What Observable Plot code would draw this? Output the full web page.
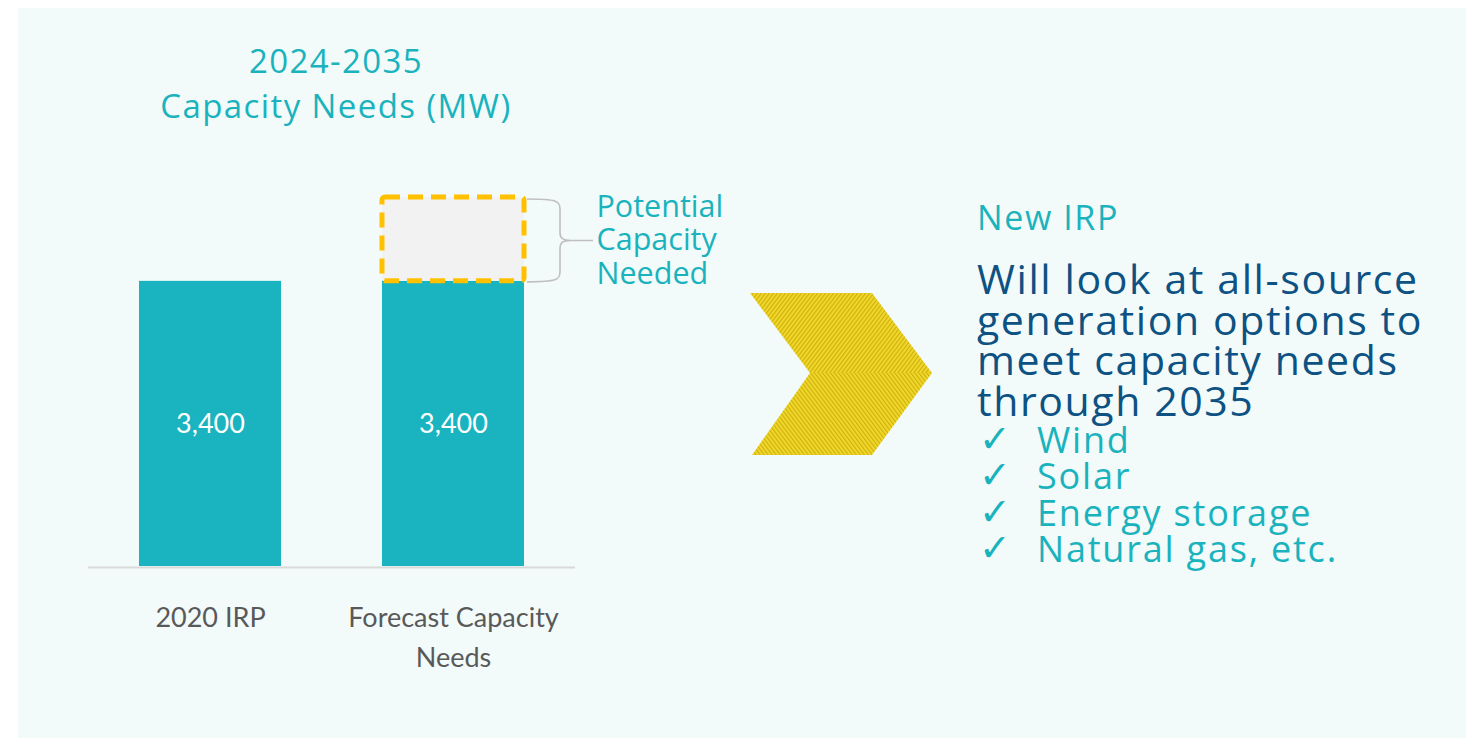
<!DOCTYPE html>
<html>
<head>
<meta charset="utf-8">
<script src="https://cdn.jsdelivr.net/npm/d3@7"></script>
<script src="https://cdn.jsdelivr.net/npm/@observablehq/plot@0.6"></script>
<style>
  html, body { margin: 0; padding: 0; background: #ffffff; }
  #stage { position: relative; width: 1471px; height: 738px; overflow: hidden; }
  #panel { position: absolute; left: 18px; top: 8px; width: 1448px; height: 730px; background: #f2fbfa; }
  #chart, #overlay { position: absolute; left: 0; top: 0; }
  g[aria-label="potential-label"] text { letter-spacing: 2.4px; }
</style>
</head>
<body>
<div id="stage">
  <div id="panel"></div>
  <div id="chart"></div>
  <div id="overlay"></div>
</div>
<script>
// ---- data ----
const categories = ["2020 IRP", "Forecast Capacity Needs"];
const baseMW = [3400, 3400];
const potentialMW = [0, 1000]; // estimated size of the dashed "potential" block
const valueLabels = ["3,400", "3,400"];
const tickLabels = ["2020 IRP", "Forecast Capacity\nNeeds"];
const potentialLabel = "Potential\nCapacity\nNeeded";
const titleLines = ["2024-2035", "Capacity Needs (MW)"];
const headline = "New IRP";
const bodyLines = ["Will look at all-source", "generation options to", "meet capacity needs", "through 2035"];
const options = ["Wind", "Solar", "Energy storage", "Natural gas, etc."];

const teal = "#1ab3bd";
const barColor = "#19b4bf";
const navy = "#0d5282";

const bars = categories.map((c, i) => ({category: c, value: baseMW[i], label: valueLabels[i]}));
const pot = categories
  .map((c, i) => ({category: c, y1: baseMW[i], y2: baseMW[i] + potentialMW[i]}))
  .filter(d => d.y2 > d.y1);

const W = 1471, H = 738, mL = 88, mR = 896, mT = 197, mB = 172;
const padIn = 0.414, padOut = 0.205;

const chart = Plot.plot({
  width: W,
  height: H,
  marginLeft: mL,
  marginRight: mR,
  marginTop: mT,
  marginBottom: mB,
  style: {background: "transparent", fontFamily: "Lato, sans-serif", overflow: "visible"},
  x: {domain: categories, paddingInner: padIn, paddingOuter: padOut, label: null},
  y: {domain: [0, 4400], axis: null},
  marks: [
    Plot.ruleY([0], {stroke: "#d9d9d9", strokeWidth: 2, dy: 1}),
    Plot.barY(bars, {x: "category", y: "value", fill: barColor}),
    Plot.barY(pot, {x: "category", y1: "y1", y2: "y2", fill: "#f2f2f2", stroke: "#ffc000",
                    strokeWidth: 5, strokeDasharray: "15,8", rx: 3}),
    Plot.text(bars, {x: "category", y: d => d.value / 2, text: "label", fill: "#ffffff", fontSize: 27}),
    Plot.axisX({tickSize: 0, tickPadding: 32, fontSize: 27, fill: "#595959", lineHeight: 1.48, label: null,
                tickFormat: d => tickLabels[categories.indexOf(d)]}),
    Plot.text(pot, {x: "category", y: d => (d.y1 + d.y2) / 2, text: () => potentialLabel,
                    textAnchor: "start", dx: 143, fill: teal, fontSize: 30.5, lineHeight: 1.1,
                    fontFamily: "Open Sans, sans-serif", ariaLabel: "potential-label"})
  ]
});
document.getElementById("chart").appendChild(chart);

// ---- curly brace beside the potential block, placed with the chart's own scales ----
(function drawBrace() {
  let xs, ys;
  try { xs = chart.scale("x"); ys = chart.scale("y"); } catch (e) {}
  const bandFallback = d3.scaleBand().domain(categories).range([mL, W - mR]).paddingInner(padIn).paddingOuter(padOut);
  const linFallback = d3.scaleLinear([0, 4400], [H - mB, mT]);
  const fx = c => (xs && xs.apply ? xs.apply(c) : bandFallback(c));
  const bw = (xs && xs.bandwidth) || bandFallback.bandwidth();
  const fy = v => (ys && ys.apply ? ys.apply(v) : linFallback(v));
  const g = d3.select(chart.tagName.toLowerCase() === "svg" ? chart : chart.querySelector("svg"))
    .append("g").attr("aria-label", "brace");
  pot.forEach(d => {
    const x0 = fx(d.category) + bw + 3;
    const yTop = fy(d.y2) + 2;
    const yBot = fy(d.y1) + 1;
    const mid = (yTop + yBot) / 2;
    const p = d3.path();
    p.moveTo(x0, yTop);
    p.bezierCurveTo(x0 + 30, yTop, x0 + 33, yTop + 2, x0 + 33, yTop + 10);
    p.lineTo(x0 + 33, mid - 8);
    p.bezierCurveTo(x0 + 33, mid - 2, x0 + 36, mid, x0 + 44, mid);
    p.lineTo(x0 + 66, mid);
    p.moveTo(x0 + 44, mid);
    p.bezierCurveTo(x0 + 36, mid, x0 + 33, mid + 2, x0 + 33, mid + 8);
    p.lineTo(x0 + 33, yBot - 10);
    p.bezierCurveTo(x0 + 33, yBot - 2, x0 + 30, yBot, x0, yBot);
    g.append("path").attr("d", p.toString())
      .attr("fill", "none").attr("stroke", "#bfbfbf").attr("stroke-width", 1.6);
  });
})();

// ---- overlay: title, chevron, right-hand text ----
const svg = d3.select("#overlay").append("svg")
  .attr("width", W).attr("height", H)
  .style("font-family", "Open Sans, sans-serif");

const defs = svg.append("defs");
function stripes(id, angle) {
  const pat = defs.append("pattern").attr("id", id).attr("patternUnits", "userSpaceOnUse")
    .attr("width", 3.2).attr("height", 3.2).attr("patternTransform", `rotate(${angle})`);
  pat.append("rect").attr("width", 3.2).attr("height", 3.2).attr("fill", "#efd82a");
  pat.append("rect").attr("width", 1.1).attr("height", 3.2).attr("fill", "#cfae0e");
}
stripes("stripeTop", 37);
stripes("stripeBot", -37);

svg.append("polygon").attr("points", "750,293 872,293 932,373 810,373").attr("fill", "url(#stripeTop)");
svg.append("polygon").attr("points", "810,373 932,373 872,455 752,455").attr("fill", "url(#stripeBot)");

svg.append("g").selectAll("text").data(titleLines).join("text")
  .attr("x", 336).attr("y", (d, i) => 73 + i * 45)
  .attr("text-anchor", "middle").attr("fill", teal)
  .style("font-size", "33px").style("letter-spacing", "1.4px")
  .text(d => d);

svg.append("text").attr("x", 977).attr("y", 230).attr("fill", teal)
  .style("font-size", "34px").style("letter-spacing", "1.6px").text(headline);

svg.append("g").selectAll("text").data(bodyLines).join("text")
  .attr("x", 977).attr("y", (d, i) => 294 + i * 40.5).attr("fill", navy)
  .style("font-size", "41px").style("letter-spacing", "1.6px")
  .text(d => d);

const opt = svg.append("g").selectAll("g").data(options).join("g")
  .attr("transform", (d, i) => `translate(0,${453 + i * 36.3})`);
opt.append("text").attr("x", 979).attr("y", -1).attr("fill", teal)
  .style("font-family", "DejaVu Sans, sans-serif").style("font-size", "38px").text("\u2713");
opt.append("text").attr("x", 1037).attr("fill", teal)
  .style("font-size", "36px").style("letter-spacing", "1.8px").text(d => d);
</script>
</body>
</html>
